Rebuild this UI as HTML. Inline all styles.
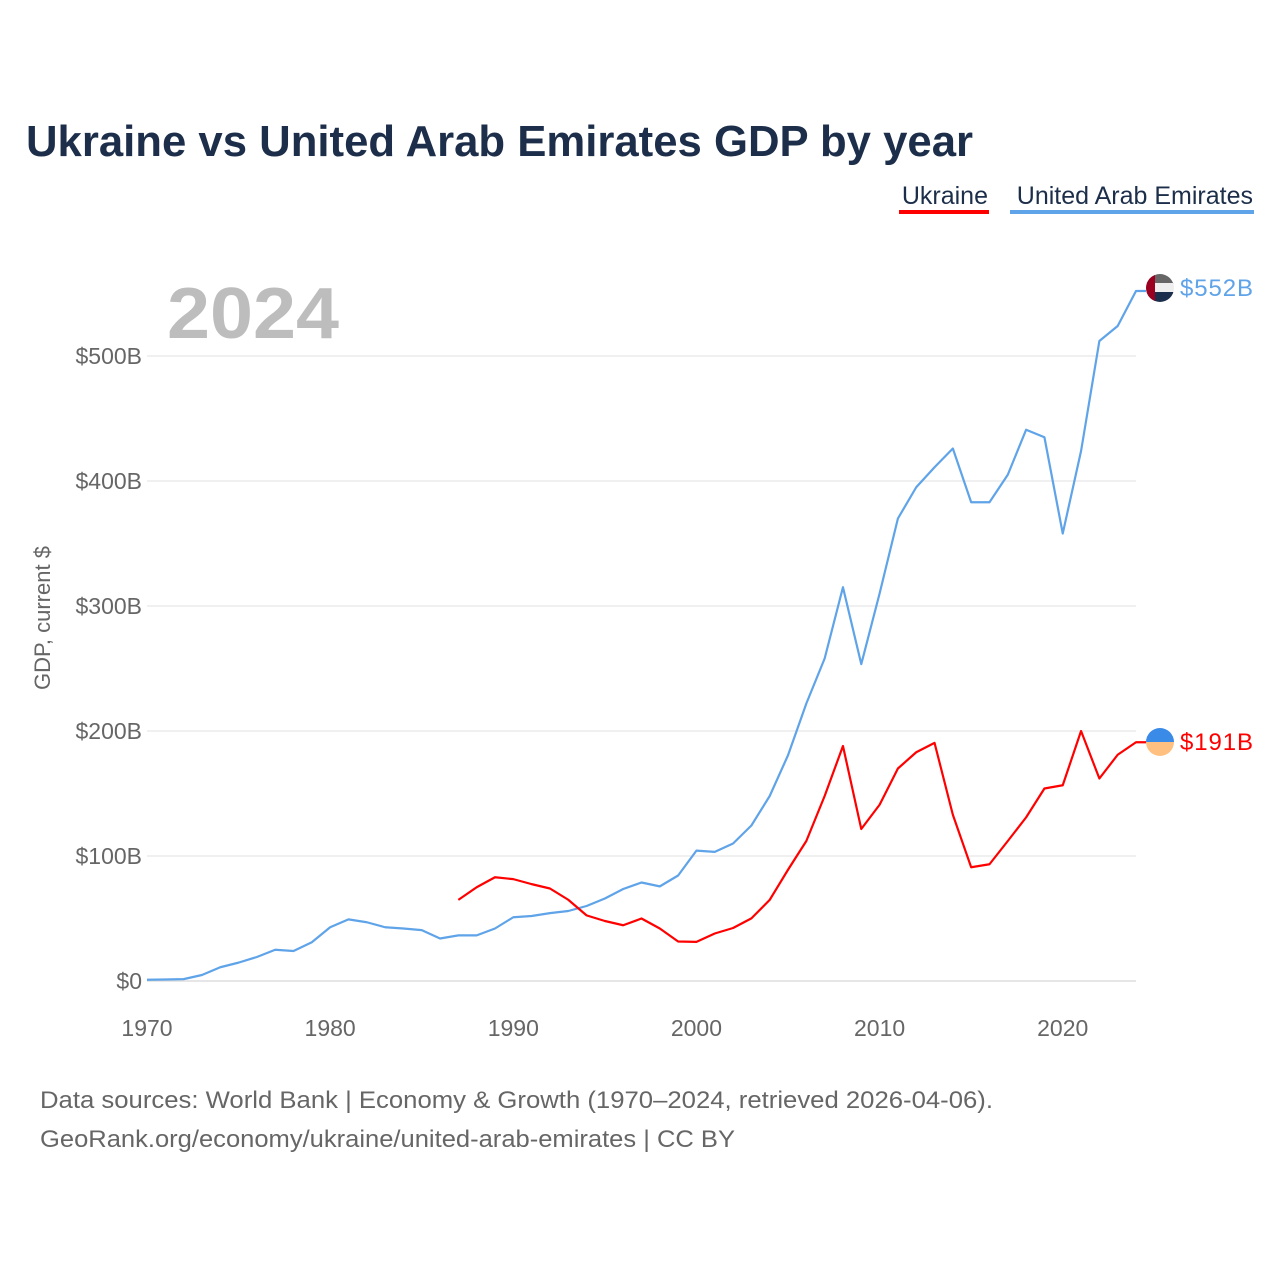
<!DOCTYPE html>
<html><head><meta charset="utf-8"><style>
body{margin:0;background:#fff;width:1280px;height:1280px;overflow:hidden;font-family:"Liberation Sans",sans-serif}
</style></head><body>
<svg width="1280" height="1280" id="chart" xmlns="http://www.w3.org/2000/svg" font-family="Liberation Sans, sans-serif">
<text x="26" y="156" font-size="44" font-weight="bold" fill="#1c2e4a" textLength="947" lengthAdjust="spacingAndGlyphs">Ukraine vs United Arab Emirates GDP by year</text>
<g><text x="988" y="204" font-size="25" fill="#1c2e4a" text-anchor="end">Ukraine</text><rect x="899" y="210" width="90" height="4" fill="#ff0000"/></g>
<g><text x="1253" y="204" font-size="25" fill="#1c2e4a" text-anchor="end">United Arab Emirates</text><rect x="1010" y="210" width="244" height="4" fill="#5fa3e8"/></g>
<text x="167" y="338" font-size="72" font-weight="bold" fill="#bdbdbd" textLength="172" lengthAdjust="spacingAndGlyphs">2024</text>
<text transform="translate(50,618) rotate(-90)" font-size="22" fill="#666" text-anchor="middle">GDP, current $</text>
<g id="grid"></g><g id="lines"></g>
<g>
<clipPath id="c1"><circle cx="1160" cy="288" r="14"/></clipPath>
<g clip-path="url(#c1)"><rect x="1146" y="274" width="28" height="10" fill="#666"/><rect x="1146" y="283" width="28" height="10" fill="#eee"/><rect x="1146" y="292" width="28" height="10" fill="#1b2e4b"/><rect x="1146" y="274" width="9" height="28" fill="#9b0020"/></g></g>
<text x="1180" y="296" font-size="24" fill="#5fa3e8" textLength="73">$552B</text>
<g>
<clipPath id="c2"><circle cx="1160" cy="742" r="14"/></clipPath>
<g clip-path="url(#c2)"><rect x="1146" y="728" width="28" height="14" fill="#3a8ae8"/><rect x="1146" y="742" width="28" height="14" fill="#ffc080"/></g></g>
<text x="1180" y="750" font-size="24" fill="#ff0000" textLength="73">$191B</text>
<text x="40" y="1108" font-size="24" fill="#666" textLength="953" lengthAdjust="spacingAndGlyphs">Data sources: World Bank | Economy &amp; Growth (1970–2024, retrieved 2026-04-06).</text>
<text x="40" y="1147" font-size="24" fill="#666" textLength="695" lengthAdjust="spacingAndGlyphs">GeoRank.org/economy/ukraine/united-arab-emirates | CC BY</text>
</svg>
<script>
const uaeYears=[1970,1971,1972,1973,1974,1975,1976,1977,1978,1979,1980,1981,1982,1983,1984,1985,1986,1987,1988,1989,1990,1991,1992,1993,1994,1995,1996,1997,1998,1999,2000,2001,2002,2003,2004,2005,2006,2007,2008,2009,2010,2011,2012,2013,2014,2015,2016,2017,2018,2019,2020,2021,2022,2023,2024];
const uaeValues=[1,1.2,1.5,4.8,11,14.7,19.2,25,24,31,43,49.3,47,43,42,40.7,34,36.5,36.5,42,51,52,54.3,56,60,66,73.6,78.8,75.7,84.4,104.3,103.3,110,124.4,148,180.6,222,258,315,253.5,310,370,395,411,426,383,383,405,441,435,358,424,512,524,552];
const ukrYears=[1987,1988,1989,1990,1991,1992,1993,1994,1995,1996,1997,1998,1999,2000,2001,2002,2003,2004,2005,2006,2007,2008,2009,2010,2011,2012,2013,2014,2015,2016,2017,2018,2019,2020,2021,2022,2023,2024];
const ukrValues=[64.9,75,83,81.5,77.5,74,65,52.5,48,44.6,50,42,31.6,31.3,38,42.4,50.1,64.9,89,112,148,188,121.6,141,170,183,190.5,133,91,93.4,112,130.9,154,156.6,200,162,181,191];
const yTicks=[0,100,200,300,400,500];
const yTickLabels=["$0","$100B","$200B","$300B","$400B","$500B"];
const xTicks=[1970,1980,1990,2000,2010,2020];
const NS="http://www.w3.org/2000/svg";
const X=y=>147+(y-1970)*(1136-147)/54;
const Y=v=>981-v*1.25;
const grid=document.getElementById('grid'),lines=document.getElementById('lines');
function mk(t,a,p){const e=document.createElementNS(NS,t);for(const k in a)e.setAttribute(k,a[k]);p.appendChild(e);return e;}
yTicks.forEach((v,i)=>{
  const l=mk('line',{x1:147,x2:1136,y1:Y(v),y2:Y(v),stroke:i===0?'#ddd':'#ebebeb','stroke-width':1.5},grid);
  
  
  const t=mk('text',{x:142,y:Y(v)+8,'font-size':23,fill:'#666','text-anchor':'end'},grid);
  t.textContent=yTickLabels[i];
  
  
});
xTicks.forEach(y=>{
  const t=mk('text',{x:X(y),y:1036,'font-size':23,fill:'#666','text-anchor':'middle'},grid);
  t.textContent=y;
  
  
});
function series(ys,vs,c,name){
  const pts=ys.map((y,i)=>X(y)+','+Y(vs[i]));
  pts.push((X(ys[ys.length-1])+10)+','+Y(vs[vs.length-1]));
  const p=mk('polyline',{points:pts.join(' '),fill:'none',stroke:c,'stroke-width':2.2,'stroke-linejoin':'round'},lines);
  
  
}
series(uaeYears,uaeValues,'#5fa3e8','uae-line');
series(ukrYears,ukrValues,'#ff0000','ukraine-line');
</script>
</body></html>
